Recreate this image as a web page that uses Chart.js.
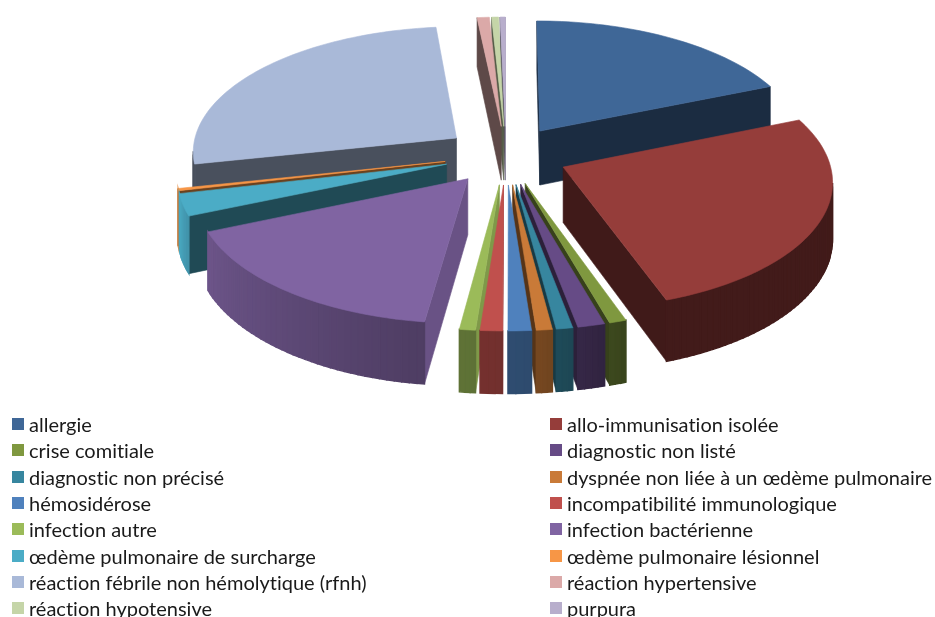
<!DOCTYPE html>
<html lang="fr">
<head>
<meta charset="utf-8">
<title>Répartition des diagnostics</title>
<script src="https://cdn.jsdelivr.net/npm/chart.js@4"></script>
<style>
  html, body { margin: 0; padding: 0; background: #fff; }
  #wrap { position: relative; width: 935px; height: 617px; overflow: hidden; }
  #graphique { position: absolute; left: 0; top: 0; }
  #legende {
    position: absolute; left: 12px; top: 411px; width: 923px;
    display: grid; grid-template-columns: 538px 385px; grid-auto-rows: 26.3px;
    font-family: Lato, sans-serif; font-size: 20px; color: #1a1a1a;
    font-variant-ligatures: none;
  }
  #legende div { display: flex; align-items: center; white-space: nowrap; }
  #legende i { width: 12px; height: 12px; margin-right: 5px; flex: none; }
</style>
</head>
<body>
<div id="wrap">
  <canvas id="graphique" width="935" height="617"></canvas>
  <div id="legende"></div>
</div>
<script>
const categories = [
  'allergie', 'allo-immunisation isolée', 'crise comitiale', 'diagnostic non listé',
  'diagnostic non précisé', 'dyspnée non liée à un œdème pulmonaire', 'hémosidérose',
  'incompatibilité immunologique', 'infection autre', 'infection bactérienne',
  'œdème pulmonaire de surcharge', 'œdème pulmonaire lésionnel',
  'réaction fébrile non hémolytique (rfnh)', 'réaction hypertensive',
  'réaction hypotensive', 'purpura'
];
const valeurs = [18.75, 25.9, 0.92, 1.47, 0.89, 0.86, 1.25, 1.19, 0.86, 16.5, 2.78, 0.28, 26.7, 0.83, 0.47, 0.36];
const couleurs = [
  '#3f6797', '#953d3a', '#7f983f', '#664b86', '#37869f', '#c97a38', '#4f81bd', '#c0504d',
  '#9bbb59', '#8064a2', '#4bacc6', '#f79646', '#a9b9d8', '#dba9a8', '#c5d5a8', '#b8aecc'
];

// reglages de la vue 3D
const perspective = 0.098;
const ecrasement = 0.473;
const epaisseur = 55;
const ombresBord = [[0, 0.44], [160, 0.44], [175, 0.58], [190, 0.62], [247, 0.85], [257, 0.97], [259, 0.42], [360, 0.42]];

const rad = d => d * Math.PI / 180;

function assombrir(hex, f) {
  const n = parseInt(hex.slice(1), 16);
  const r = Math.round((n >> 16 & 255) * f);
  const g = Math.round((n >> 8 & 255) * f);
  const b = Math.round((n & 255) * f);
  return `rgb(${r},${g},${b})`;
}

function ombreBord(angle) {
  const a = (angle + 360) % 360;
  for (let i = 1; i < ombresBord.length; i++) {
    const [a0, f0] = ombresBord[i - 1];
    const [a1, f1] = ombresBord[i];
    if (a <= a1) return f0 + (f1 - f0) * (a - a0) / (a1 - a0);
  }
  return 0.44;
}

function remplir(ctx, points, couleur, trait) {
  ctx.beginPath();
  points.forEach((p, i) => i ? ctx.lineTo(p[0], p[1]) : ctx.moveTo(p[0], p[1]));
  ctx.closePath();
  ctx.fillStyle = couleur;
  ctx.strokeStyle = couleur;
  ctx.lineWidth = trait;
  ctx.fill();
  ctx.stroke();
}

// dessine les parts en relief a partir des arcs calcules par Chart.js
const camembert3D = {
  id: 'camembert3D',
  beforeDatasetsDraw(chart) {
    const ctx = chart.ctx;
    const arcs = chart.getDatasetMeta(0).data;

    const parts = arcs.map((arc, i) => {
      const R = arc.outerRadius;
      const debut = arc.startAngle + Math.PI / 2;
      const fin = arc.endAngle + Math.PI / 2;
      const milieu = (debut + fin) / 2;
      const off = arc.options.offset;
      const ox = Math.sin(milieu) * off;
      const oy = -Math.cos(milieu) * off;
      const plan = (t, r) => [Math.sin(t) * r + ox, -Math.cos(t) * r + oy];
      const haut = ([x, y]) => {
        const s = 1 / (1 - perspective * y / R);
        return [arc.x + x * s, arc.y + ecrasement * y * s];
      };
      const bas = ([x, y]) => {
        const s = 1 / (1 - perspective * y / R);
        return [arc.x + x * s, arc.y + ecrasement * y * s + epaisseur * s];
      };
      const visible = (n, p) => {
        const camera = R / perspective;
        return Math.sin(n) * (-p[0]) - Math.cos(n) * (camera - p[1]) > 0;
      };
      return { i, R, debut, fin, milieu, plan, haut, bas, visible, tri: -Math.cos(milieu) * (R / 2 + off) };
    });

    parts.sort((a, b) => a.tri - b.tri).forEach(p => {
      const base = couleurs[p.i];
      const sommet = p.plan(0, 0);
      const pas = Math.max(2, Math.ceil((p.fin - p.debut) / rad(1.5)));
      const bord = [];
      for (let k = 0; k <= pas; k++) {
        const t = p.debut + (p.fin - p.debut) * k / pas;
        bord.push([t, p.plan(t, p.R)]);
      }

      // face radiale de fin puis de debut
      [[p.debut - Math.PI / 2, bord[0][1]], [p.fin + Math.PI / 2, bord[pas][1]]].forEach(([n, ext]) => {
        const milieuFace = [(sommet[0] + ext[0]) / 2, (sommet[1] + ext[1]) / 2];
        if (!p.visible(n, milieuFace)) return;
        const deg = (n * 180 / Math.PI + 360) % 360;
        const f = deg > 75 && deg < 112 ? 0.82 : 0.43;
        remplir(ctx, [p.haut(sommet), p.haut(ext), p.bas(ext), p.bas(sommet)], assombrir(base, f), 0.6);
      });

      // bord exterieur
      for (let k = 0; k < pas; k++) {
        const n = (bord[k][0] + bord[k + 1][0]) / 2;
        const a = bord[k][1];
        const b = bord[k + 1][1];
        if (!p.visible(n, [(a[0] + b[0]) / 2, (a[1] + b[1]) / 2])) continue;
        remplir(ctx, [p.haut(a), p.haut(b), p.bas(b), p.bas(a)], assombrir(base, ombreBord(n * 180 / Math.PI)), 1.4);
      }

      // dessus de la part
      remplir(ctx, [p.haut(sommet), ...bord.map(e => p.haut(e[1]))], base, 0.6);
    });

    return false;
  }
};

new Chart(document.getElementById('graphique').getContext('2d'), {
  type: 'pie',
  data: {
    labels: categories,
    datasets: [{
      data: valeurs,
      backgroundColor: couleurs,
      borderWidth: 0,
      offset: 62
    }]
  },
  options: {
    responsive: false,
    animation: false,
    events: [],
    radius: 265,
    layout: { padding: { left: 77, bottom: 307 } },
    plugins: {
      legend: { display: false },
      tooltip: { enabled: false }
    }
  },
  plugins: [camembert3D]
});

const legende = document.getElementById('legende');
categories.forEach((nom, i) => {
  const ligne = document.createElement('div');
  const carre = document.createElement('i');
  carre.style.background = couleurs[i];
  ligne.appendChild(carre);
  ligne.appendChild(document.createTextNode(nom));
  legende.appendChild(ligne);
});
</script>
</body>
</html>
